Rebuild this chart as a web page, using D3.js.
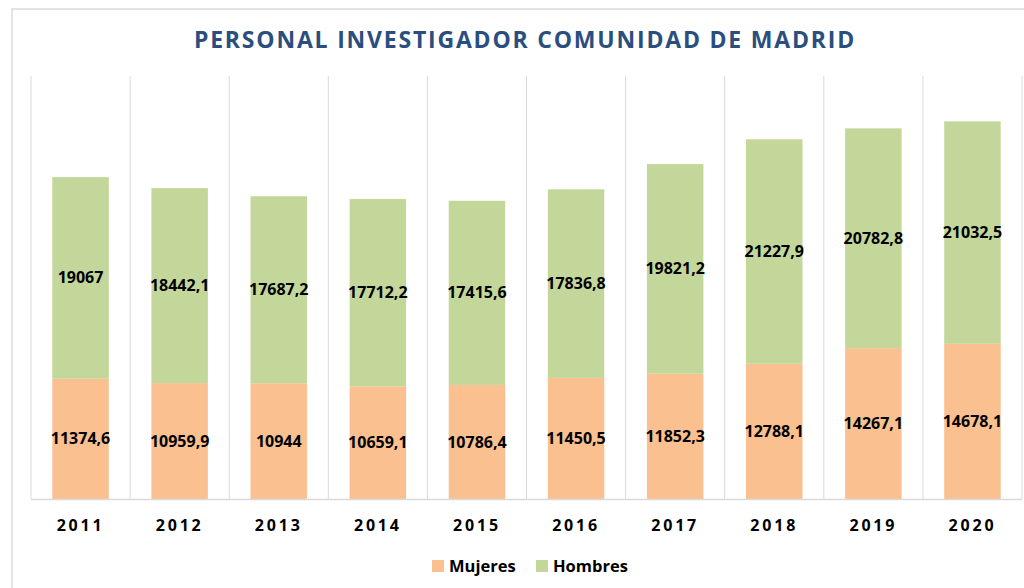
<!DOCTYPE html>
<html>
<head>
<meta charset="utf-8">
<script src="https://cdn.jsdelivr.net/npm/d3@7"></script>
<style>
  html, body { margin: 0; padding: 0; background: #fff; }
  svg { display: block; }
</style>
</head>
<body>
<div id="chart"></div>
<script>
// Data
const years = ['2011', '2012', '2013', '2014', '2015', '2016', '2017', '2018', '2019', '2020'];
const mujeres = [11374.6, 10959.9, 10944, 10659.1, 10786.4, 11450.5, 11852.3, 12788.1, 14267.1, 14678.1];
const hombres = [19067, 18442.1, 17687.2, 17712.2, 17415.6, 17836.8, 19821.2, 21227.9, 20782.8, 21032.5];
const seriesNames = ['Mujeres', 'Hombres'];
const seriesColors = ['#fac090', '#c4d79b'];

const width = 1024, height = 588;
const margin = { top: 76, right: 2, bottom: 89, left: 31 };

const svg = d3.select('#chart')
    .append('svg')
    .attr('width', width)
    .attr('height', height);

// Outer chart border
svg.append('rect')
    .attr('x', 12)
    .attr('y', 9)
    .attr('width', width)
    .attr('height', height)
    .attr('fill', 'none')
    .attr('stroke', '#e3e3e3')
    .attr('stroke-width', 2);

const x = d3.scaleBand()
    .domain(years)
    .range([margin.left, width - margin.right])
    .paddingInner(0.43)
    .paddingOuter(0.215);

const y = d3.scaleLinear()
    .domain([0, 40000])
    .range([height - margin.bottom, margin.top]);

// Vertical gridlines at category boundaries
const step = x.step();
const bounds = d3.range(years.length + 1).map(i => margin.left + i * step);
svg.append('g')
    .selectAll('line')
    .data(bounds)
    .join('line')
    .attr('x1', d => d)
    .attr('x2', d => d)
    .attr('y1', y(40000))
    .attr('y2', y(0))
    .attr('stroke', '#d9d9d9')
    .attr('stroke-width', 1);

// Stacked data
const rows = years.map((yr, i) => ({ year: yr, Mujeres: mujeres[i], Hombres: hombres[i] }));
const stack = d3.stack().keys(seriesNames)(rows);

const layer = svg.append('g')
    .selectAll('g')
    .data(stack)
    .join('g')
    .attr('fill', (d, i) => seriesColors[i]);

layer.selectAll('rect')
    .data(d => d)
    .join('rect')
    .attr('x', d => x(d.data.year))
    .attr('y', d => y(d[1]))
    .attr('width', x.bandwidth())
    .attr('height', d => y(d[0]) - y(d[1]));

// Value labels
const fmt = v => String(v).replace('.', ',');
layer.selectAll('text')
    .data(d => d.map(s => ({ s, key: d.key })))
    .join('text')
    .attr('x', d => x(d.s.data.year) + x.bandwidth() / 2)
    .attr('y', d => (y(d.s[0]) + y(d.s[1])) / 2)
    .attr('dy', '0.35em')
    .attr('text-anchor', 'middle')
    .attr('fill', '#000')
    .style('font-family', '"Open Sans", sans-serif')
    .style('font-weight', 700)
    .style('font-size', '16px')
    .text(d => fmt(d.s.data[d.key]));

// Baseline
svg.append('line')
    .attr('x1', margin.left)
    .attr('x2', width - margin.right)
    .attr('y1', y(0) + 0.5)
    .attr('y2', y(0) + 0.5)
    .attr('stroke', '#d9d9d9')
    .attr('stroke-width', 1.5);

// X axis labels
const xAxis = svg.append('g')
    .attr('transform', `translate(0,${y(0)})`)
    .call(d3.axisBottom(x).tickSize(0).tickPadding(21));
xAxis.select('.domain').remove();
xAxis.selectAll('text')
    .attr('fill', '#000')
    .style('font-family', '"Open Sans", sans-serif')
    .style('font-weight', 700)
    .style('font-size', '16px')
    .style('letter-spacing', '2.8px');

// Title
svg.append('text')
    .attr('x', 525)
    .attr('y', 48)
    .attr('text-anchor', 'middle')
    .attr('fill', '#2a4e7e')
    .style('font-family', '"Open Sans", sans-serif')
    .style('font-weight', 700)
    .style('font-size', '23px')
    .style('letter-spacing', '1.8px')
    .text('PERSONAL INVESTIGADOR COMUNIDAD DE MADRID');

// Legend
const legendX = [432, 536];
const legend = svg.append('g')
    .selectAll('g')
    .data(seriesNames)
    .join('g')
    .attr('transform', (d, i) => `translate(${legendX[i]},560)`);
legend.append('rect')
    .attr('width', 12)
    .attr('height', 12)
    .attr('fill', (d, i) => seriesColors[i]);
legend.append('text')
    .attr('x', 17)
    .attr('y', 6)
    .attr('dy', '0.35em')
    .attr('fill', '#000')
    .style('font-family', '"Open Sans", sans-serif')
    .style('font-weight', 700)
    .style('font-size', '16.5px')
    .text(d => d);
</script>
</body>
</html>
